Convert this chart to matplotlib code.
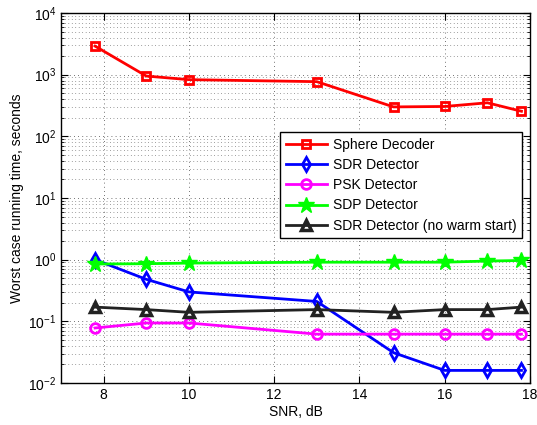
import matplotlib
matplotlib.use("Agg")
import matplotlib.pyplot as plt
from matplotlib.ticker import LogLocator, NullFormatter

plt.rcParams['font.family'] = ['Liberation Sans', 'DejaVu Sans']

snr = [7.8, 9.0, 10.0, 13.0, 14.8, 16.0, 17.0, 17.8]
sphere = [2900, 950, 830, 770, 300, 305, 350, 255]
sdr = [1.0, 0.48, 0.30, 0.21, 0.031, 0.016, 0.016, 0.016]
psk = [0.078, 0.094, 0.094, 0.062, 0.062, 0.062, 0.062, 0.062]
sdp = [0.85, 0.86, 0.88, 0.91, 0.91, 0.91, 0.95, 0.97]
sdr_cold = [0.17, 0.155, 0.14, 0.155, 0.14, 0.155, 0.155, 0.17]

fig = plt.figure(figsize=(5.37, 4.25), dpi=100)
ax = fig.add_axes([61/537, 1 - 383/425, 469/537, 370/425])

ax.semilogy(snr, sphere, '-s', color='red', lw=2, ms=6, mfc='none', mew=2, label='Sphere Decoder')
ax.semilogy(snr, sdr, '-d', color='blue', lw=2, ms=7, mfc='none', mew=2, label='SDR Detector')
ax.semilogy(snr, psk, '-o', color='magenta', lw=2, ms=7, mfc='none', mew=2, label='PSK Detector')
ax.semilogy(snr, sdp, '-*', color='#00ff00', lw=2, ms=12, mew=1, label='SDP Detector')
ax.semilogy(snr, sdr_cold, '-^', color='#222222', lw=2, ms=7, mfc='none', mew=2.5,
            label='SDR Detector (no warm start)')

ax.set_xlim(7, 18)
ax.set_ylim(1e-2, 1e4)
ax.set_xticks([8, 10, 12, 14, 16, 18])
ax.yaxis.set_major_locator(LogLocator(base=10, numticks=10))
ax.yaxis.set_minor_locator(LogLocator(base=10, subs=range(2, 10), numticks=10))
ax.yaxis.set_minor_formatter(NullFormatter())

ax.grid(True, which='major', linestyle=(0, (1, 4)), color='#444444', lw=0.6)
ax.grid(True, which='minor', axis='y', linestyle=(0, (1, 4)), color='#444444', lw=0.5)
ax.tick_params(which='both', direction='in', top=True, right=True, labelsize=10)
ax.tick_params(which='major', length=5)
ax.tick_params(which='minor', length=2.5)
for s in ax.spines.values():
    s.set_linewidth(1)

ax.set_xlabel('SNR, dB', fontsize=10, labelpad=2)
ax.set_ylabel('Worst case running time, seconds', fontsize=10, labelpad=3)

leg = ax.legend(loc='upper right', bbox_to_anchor=(0.983, 0.678), fontsize=10,
                fancybox=False, framealpha=1, edgecolor='black',
                borderpad=0.4, labelspacing=0.45, handlelength=3.0, handletextpad=0.4,
                borderaxespad=0)
leg.get_frame().set_linewidth(1)

fig.savefig('out.png', dpi=100)
